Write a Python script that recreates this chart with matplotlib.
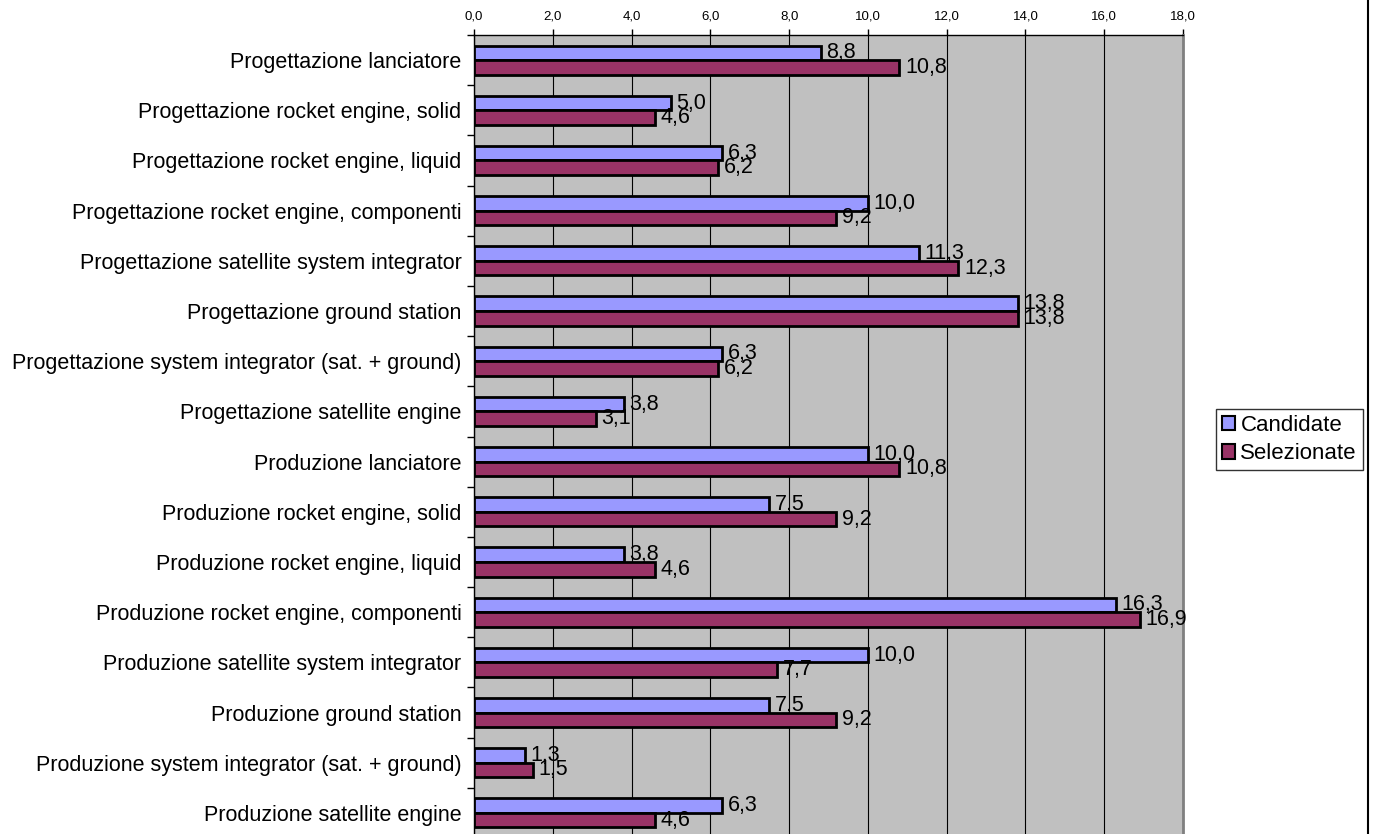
import matplotlib.pyplot as plt
import numpy as np

categories = [
    'Progettazione lanciatore',
    'Progettazione rocket engine, solid',
    'Progettazione rocket engine, liquid',
    'Progettazione rocket engine, componenti',
    'Progettazione satellite system integrator',
    'Progettazione ground station',
    'Progettazione system integrator (sat. + ground)',
    'Progettazione satellite engine',
    'Produzione lanciatore',
    'Produzione rocket engine, solid',
    'Produzione rocket engine, liquid',
    'Produzione rocket engine, componenti',
    'Produzione satellite system integrator',
    'Produzione ground station',
    'Produzione system integrator (sat. + ground)',
    'Produzione satellite engine',
]
candidate = [8.8, 5.0, 6.3, 10.0, 11.3, 13.8, 6.3, 3.8, 10.0, 7.5, 3.8, 16.3, 10.0, 7.5, 1.3, 6.3]
selezionate = [10.8, 4.6, 6.2, 9.2, 12.3, 13.8, 6.2, 3.1, 10.8, 9.2, 4.6, 16.9, 7.7, 9.2, 1.5, 4.6]
series_names = ['Candidate', 'Selezionate']
x_ticks = [0, 2, 4, 6, 8, 10, 12, 14, 16, 18]

plt.rcParams['font.family'] = ['Liberation Sans', 'DejaVu Sans']

fig = plt.figure(figsize=(13.74, 8.34), dpi=100)
ax = fig.add_axes([474 / 1374, 1 - 838 / 834, (1183 - 474) / 1374, 803 / 834])
ax.set_facecolor('#C0C0C0')

y = np.arange(len(categories))
h = 0.29
b1 = ax.barh(y - h / 2, candidate, height=h, color='#9999FF', edgecolor='black',
             linewidth=2, label=series_names[0], zorder=3)
b2 = ax.barh(y + h / 2, selezionate, height=h, color='#993366', edgecolor='black',
             linewidth=2, label=series_names[1], zorder=3)

for bars, vals in ((b1, candidate), (b2, selezionate)):
    for bar, v in zip(bars, vals):
        ax.annotate(f'{v:.1f}'.replace('.', ','),
                    (bar.get_width(), bar.get_y() + bar.get_height() / 2),
                    xytext=(4, 0), textcoords='offset points', va='center', ha='left',
                    fontsize=15.5, zorder=4)

ax.set_xlim(0, 18)
ax.set_ylim(len(categories) - 0.5, -0.5)
ax.set_xticks(x_ticks)
ax.set_xticklabels([f'{t:.1f}'.replace('.', ',') for t in x_ticks], fontsize=9.5)
ax.xaxis.tick_top()
ax.tick_params(axis='x', length=4, width=1, pad=5)
ax.grid(axis='x', color='black', linewidth=0.8, zorder=1)

ax.set_yticks(y)
ax.set_yticklabels(categories, fontsize=15.5)
ax.set_yticks(np.arange(len(categories) + 1) - 0.5, minor=True)
ax.tick_params(axis='y', which='major', length=0, pad=9)
ax.tick_params(axis='y', which='minor', length=5, width=1)

ax.spines['bottom'].set_visible(False)
ax.spines['top'].set_linewidth(1)
ax.spines['left'].set_linewidth(1)
ax.spines['right'].set_color('#808080')
ax.spines['right'].set_linewidth(2)

leg = fig.legend(handles=[b1, b2], loc='upper left', bbox_to_anchor=(1216 / 1374, 1 - 409 / 834),
                 fontsize=16, frameon=True, fancybox=False, edgecolor='black',
                 handlelength=0.6, handleheight=0.6, handletextpad=0.25, borderpad=0.25,
                 labelspacing=0.35, borderaxespad=0)
leg.get_frame().set_linewidth(1)
for patch in leg.get_patches():
    patch.set_linewidth(1.5)

fig.add_artist(plt.Line2D([1368 / 1374, 1368 / 1374], [0, 1], color='black', linewidth=1.5))

fig.savefig('out.png', dpi=100)
